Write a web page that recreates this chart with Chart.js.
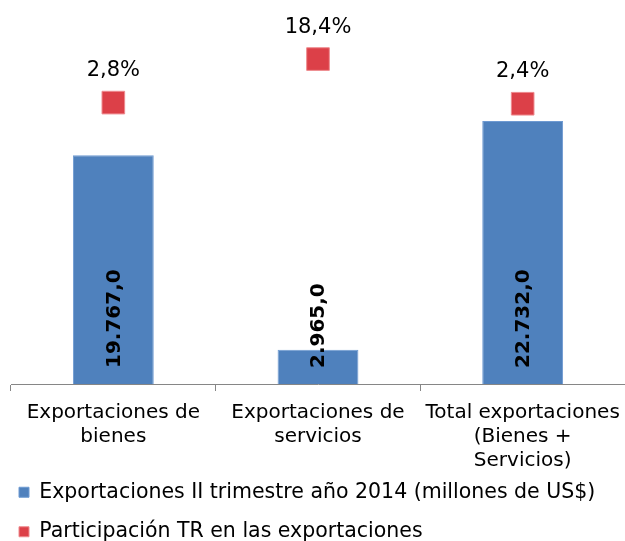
<!DOCTYPE html>
<html>
<head>
<meta charset="utf-8">
<script src="https://cdn.jsdelivr.net/npm/chart.js@4"></script>
<style>
  html, body { margin: 0; padding: 0; background: #fff; }
  #wrap { width: 625px; height: 541px; position: relative; }
</style>
</head>
<body>
<div id="wrap"><canvas id="c"></canvas></div>
<script>
const categories = [
  ['Exportaciones de', 'bienes'],
  ['Exportaciones de', 'servicios'],
  ['Total exportaciones', '(Bienes +', 'Servicios)']
];
const exportValues = [19767.0, 2965.0, 22732.0];
const shareValues = [2.8, 18.4, 2.4];
const seriesNames = [
  'Exportaciones II trimestre año 2014 (millones de US$)',
  'Participación TR en las exportaciones'
];

const FONT = "'DejaVu Sans', Verdana, sans-serif";

function fmtNum(v, dec) {
  const parts = v.toFixed(dec).split('.');
  const intPart = parts[0].replace(/\B(?=(\d{3})+(?!\d))/g, '.');
  return dec > 0 ? intPart + ',' + parts[1] : intPart;
}

const labelPlugin = {
  id: 'valueLabels',
  afterLayout(chart) {
    // place legend rows below the multi-line category labels
    if (chart.legend) {
      chart.legend.top = 463;
      chart.legend.bottom = 541;
      chart.legend.height = 78;
    }
  },
  afterDatasetsDraw(chart) {
    const ctx = chart.ctx;
    const barMeta = chart.getDatasetMeta(0);
    const yScale = chart.scales.y;
    ctx.save();
    ctx.fillStyle = '#000';
    ctx.font = 'bold 20px ' + FONT;
    barMeta.data.forEach((el, i) => {
      const base = yScale.getPixelForValue(0);
      ctx.save();
      ctx.translate(el.x + 1, base - 16);
      ctx.rotate(-Math.PI / 2);
      ctx.textAlign = 'left';
      ctx.textBaseline = 'middle';
      ctx.fillText(fmtNum(exportValues[i], 1), 0, 0);
      ctx.restore();
    });
    const ptMeta = chart.getDatasetMeta(1);
    ctx.font = '21px ' + FONT;
    ctx.textAlign = 'center';
    ctx.textBaseline = 'middle';
    ptMeta.data.forEach((el, i) => {
      ctx.fillText(fmtNum(shareValues[i], 1) + '%', el.x, el.y - 32);
    });
    ctx.restore();
  }
};

new Chart(document.getElementById('c'), {
  type: 'bar',
  data: {
    labels: categories,
    datasets: [
      {
        type: 'bar',
        label: seriesNames[0],
        data: exportValues,
        backgroundColor: '#4F81BD',
        borderColor: '#6E9AD2',
        borderWidth: 1,
        categoryPercentage: 1.0,
        barPercentage: 0.395,
        yAxisID: 'y',
        order: 2
      },
      {
        type: 'line',
        label: seriesNames[1],
        data: shareValues,
        showLine: false,
        pointStyle: 'rect',
        pointRadius: 16,
        pointHoverRadius: 16,
        backgroundColor: '#DC4048',
        borderColor: '#EE8A8E',
        borderWidth: 1,
        clip: false,
        yAxisID: 'y2',
        order: 1
      }
    ]
  },
  options: {
    responsive: true,
    maintainAspectRatio: false,
    animation: false,
    events: [],
    layout: { autoPadding: false, padding: { top: 37, left: 0, right: 0, bottom: 0 } },
    scales: {
      x: {
        offset: true,
        grid: {
          display: true,
          drawOnChartArea: false,
          drawTicks: true,
          tickLength: 7,
          color: '#868686',
          offset: true
        },
        border: { display: true, color: '#868686', width: 1 },
        ticks: {
          color: '#000',
          padding: 10,
          maxRotation: 0,
          autoSkip: false,
          font: { family: FONT, size: 20, lineHeight: 1.2 }
        },
        afterFit(scale) {
          scale.height = 89;
          scale.paddingLeft = 0;
          scale.paddingRight = 0;
        }
      },
      y: {
        position: 'left',
        min: 0,
        max: 30000,
        grid: { display: false },
        border: { display: false },
        ticks: { display: false },
        afterFit(scale) { scale.width = 11; }
      },
      y2: {
        display: false,
        position: 'right',
        min: -98,
        max: 26.3
      }
    },
    plugins: {
      legend: {
        display: true,
        position: 'bottom',
        align: 'start',
        maxHeight: 68,
        labels: {
          color: '#000',
          boxWidth: 10,
          boxHeight: 10,
          padding: 19,
          font: { family: FONT, size: 20.5 },
          sort: (a, b) => a.datasetIndex - b.datasetIndex
        }
      },
      tooltip: { enabled: false }
    }
  },
  plugins: [labelPlugin]
});
</script>
</body>
</html>
